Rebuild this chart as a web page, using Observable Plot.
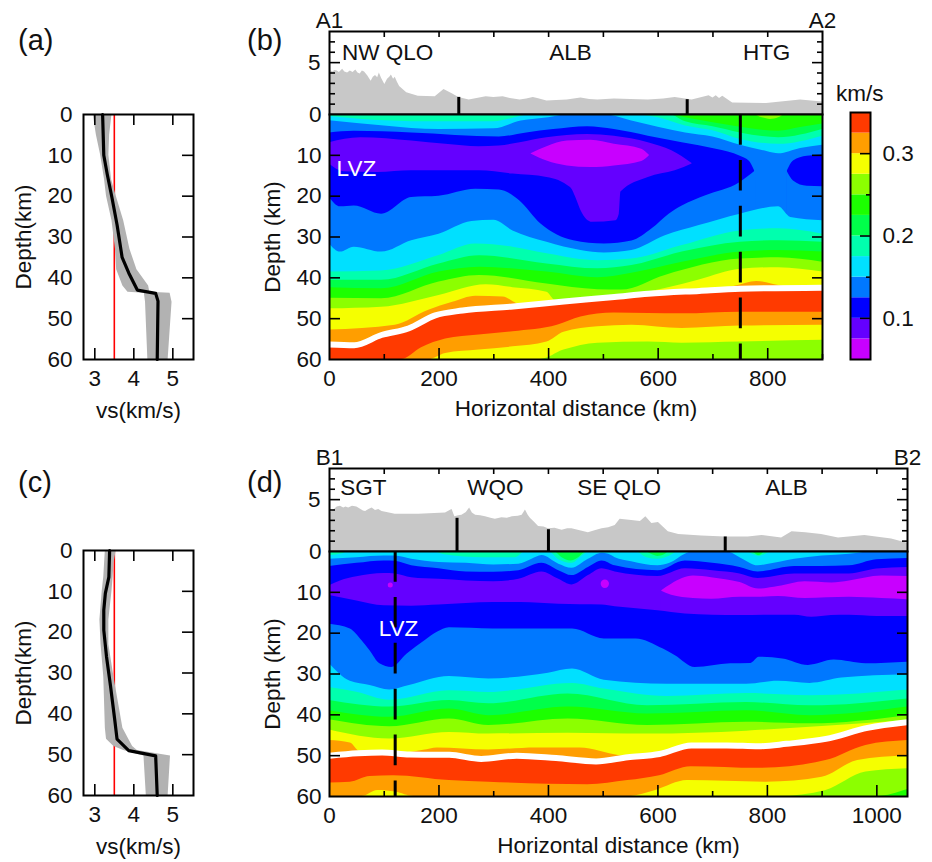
<!DOCTYPE html>
<html>
<head>
<meta charset="utf-8">
<script src="https://cdn.jsdelivr.net/npm/d3@7"></script>
<script src="https://cdn.jsdelivr.net/npm/@observablehq/plot@0.6"></script>
<style>
html,body{margin:0;padding:0;background:#fff}
#page{position:relative;width:932px;height:862px;overflow:hidden;font-family:"Liberation Sans",Arial,sans-serif;color:#111}
#page svg{position:absolute}
.tag{position:absolute;font-size:29px;line-height:34px}
</style>
</head>
<body>
<div id="page"></div>
<script>
// ---- colour classes (km/s), bottom to top of the colour bar
const cbLow  = [0.05,0.075,0.1,0.125,0.15,0.175,0.2,0.225,0.25,0.275,0.3,0.325];
const cbHigh = [0.075,0.1,0.125,0.15,0.175,0.2,0.225,0.25,0.275,0.3,0.325,0.35];
const MAG="#c800ff",VIO="#6400ff",BLU="#0000ff",LBL="#0078ff",CYA="#00e0ff",TEA="#00ffae",
      GR2="#00ff4a",GRN="#1cff00",YGR="#8cff00",YEL="#f5ff00",ORA="#ff9e00",RED="#ff3a00";
const cbColors = [MAG,VIO,BLU,LBL,CYA,TEA,GR2,GRN,YGR,YEL,ORA,RED];

// ---- panel (a) velocity profile
const aLineDepth=[0,10,14.7,20.4,27,35,38.8,43,43.8,45.7,60];
const aLineVs   =[3.2,3.23,3.32,3.44,3.57,3.7,3.87,4.09,4.56,4.62,4.6];
const aBandDepth=[0,5,10,16,20,26,33,38,42,43.5,43.8,46,60];
const aBandLow  =[2.96,3.04,3.15,3.25,3.3,3.44,3.53,3.56,3.72,3.85,4.27,4.3,4.36];
const aBandHigh =[3.44,3.38,3.36,3.43,3.55,3.74,3.9,4.08,4.38,4.41,4.93,4.98,4.88];
// ---- panel (c) velocity profile
const cLineDepth=[0,6.5,10.5,14.6,19.5,26,33,41.4,46.2,49,50.3,60];
const cLineVs   =[3.38,3.36,3.27,3.23,3.23,3.3,3.4,3.51,3.57,3.87,4.56,4.6];
const cBandDepth=[0,3.2,6.5,10,17,23,31,43.5,46.2,48,49,50.3,60];
const cBandLow  =[3.27,3.25,3.23,3.19,3.13,3.16,3.23,3.27,3.3,3.49,3.74,4.26,4.32];
const cBandHigh =[3.55,3.49,3.47,3.44,3.36,3.36,3.49,3.72,3.87,3.97,4.09,4.94,4.88];
const refVs = 3.5;

// ---- panel (b) topography
const bTopoX=[0,6,10,14,18,24,28,33,38,43,48,52,56,60,64,70,76,80,84,88,91,95,101,106,110,113,117,120,124,128,141,162,193,209,224,236,255,286,300,317,330,348,360,372,380,397,415,434,459,475,490,520,550,582,610,631,662,693,700,706,712,718,736,798,860,900];
const bTopoZ=[4.3,4.1,4.25,4.2,4.05,4.35,4.1,4.0,4.2,4.05,4.3,4.0,3.9,4.2,4.1,3.7,3.2,3.6,3.75,3.55,4.0,3.5,2.9,3.4,3.6,3.8,3.4,3.6,3.1,2.7,2.1,1.75,1.7,2.4,2.0,1.65,1.4,1.7,1.65,1.7,1.55,1.4,1.5,1.65,1.55,1.3,1.35,1.4,1.6,1.45,1.4,1.5,1.45,1.4,1.5,1.65,1.4,1.8,1.6,1.8,1.55,1.75,1.1,1.05,1.4,1.2];
const bBoundX=[236,653];
const bBoundZ=[1.65,1.43];
const bRegionName=["NW QLO","ALB","HTG"];
const bRegionX=[106,440,798];
// ---- panel (b) contour interfaces, upper crust: depth of the top of each class
const bGrnX=[0,772,790,805,820,833,900];           const bGrnY=[0,0,0.8,1.2,0.8,0,0];
const bGr2X=[0,620,650,700,750,820,860,900];       const bGr2Y=[0,0,0.8,2,3.1,4.1,3.2,2.3];
const bTeaX=[0,560,620,650,700,750,820,900];       const bTeaY=[0,0,0,1.8,3,4.5,5.7,3.7];
const bCyaX=[0,60,100,200,300,350,365,550,600,650,700,750,820,900];
const bCyaY=[0.5,1.2,1.5,1.8,1.8,0.4,0,0,0.8,2.8,4,6.1,7.3,5.3];
const bLblX=[0,100,200,300,350,400,440,500,550,600,650,700,750,800,820,860,900];
const bLblY=[1.5,2.8,3.7,3.5,1.6,0.8,0,0,1.5,3.1,4.5,5.5,7.5,9.1,9.6,8.3,7.5];
const bBluX=[0,45,150,310,360,409,471,520,582,644,706,750,767,776];
const bBluY=[4.5,4.1,4.5,5.5,4.5,3.7,3,3.7,5.3,6.9,8.5,10.2,11.5,13.8];
const bVioX=[0,57,150,212,273,310,348,397,471,520,582,625,662];
const bVioY=[6.9,5.7,6.5,7.3,7.9,7.7,6.9,5.7,4.9,5.3,6.9,8.9,12];
const bMagX=[368,397,434,477,520,570,584];         const bMagY=[9.6,7.9,6.5,6.3,7.3,8.5,10];
const bMagBotX=[367,397,434,477,520,570,585];      const bMagBotY=[9.6,11.4,12.6,13,12.6,11.5,10];
const bVioBotX=[0,26,88,150,212,273,335,397,440,452,459,480,523,529,532,582,631,664];
const bVioBotY=[12.2,14,14.2,13.8,13.8,13.8,14.6,15.4,17.9,21.1,23.5,26.4,26,24.4,19,15.4,13.8,12];
const bBluBotX=[0,20,45,95,150,200,267,310,347,386,446,502,552,589,620,644,687,749,778];
const bBluBotY=[20.3,22.6,22.4,24.4,20.3,20,18.3,18.5,21.1,26.8,30.9,31.7,31,28,24.4,22.4,19.9,16.7,13.8];
const bBlu2X=[836,847,872,900];                    const bBlu2Y=[13.8,11.4,10.2,9.9];
const bBlu2BotX=[835,847,872,900];                 const bBlu2BotY=[13.8,16.3,17.6,17.7];
// ---- panel (b) lower crust and mantle
const bCyaLoX=[0,20,45,95,150,200,260,300,335,397,459,502,552,613,675,750,820,842,900];
const bCyaLoY=[31.7,33.7,32.5,33.7,30.9,29.3,26.2,25.9,28.5,31.3,33.3,33.9,33.3,29.7,27.2,24.4,22.6,25.2,26];
const bTeaLoX=[0,95,200,267,335,397,490,552,644,750,820,900];
const bTeaLoY=[38.6,38.3,34.5,31.7,32.5,34.1,35.8,35.4,32.1,28.5,28,29.3];
const bGr2LoX=[0,95,200,274,397,490,552,644,750,820,900];
const bGr2LoY=[40.6,40.6,36.6,34.6,36.6,37.8,37,33.7,31.3,30.9,31.3];
const bGrnLoX=[0,95,200,274,397,490,552,644,750,820,900];
const bGrnLoY=[42.4,42.7,38.6,37.4,38.6,40,38.9,36.2,33.7,33.3,33.7];
const bYgrLoX=[0,95,200,274,397,490,533,613,750,820,900];
const bYgrLoY=[45,45.1,41,39.4,41.5,42.9,43,39.4,35.4,35.1,36.2];
const bYelLoX=[0,95,200,286,335,397,412,459,552,583,613,675,750,820,900];
const bYelLoY=[47.6,47.2,44.3,41.7,42.4,43.5,45.5,46,44.7,43.5,42.6,40.5,37.9,37.5,38.6];
const bOraLoX=[0,120,180,225,267,317,344,400,600,680,742,780,820,900];
const bOraLoY=[52.8,51.6,48,46,44.5,44.7,46.5,48,45,43.9,42,40.9,41.9,44];
const bMohoX=[0,45,95,144,193,243,335,428,520,582,675,750,900];
const bMohoY=[56.3,56.5,54,52.4,49.2,48,47,45.8,44.7,43.9,43.2,42.7,42.4];
const bOra2X=[0,131,168,212,273,335,416,459,520,644,750,900];
const bOra2Y=[60,60,57.1,55,54,53.2,51.6,49.6,48.6,48.8,48.4,48.4];
const bYel2X=[0,181,212,273,335,397,428,490,552,644,750,900];
const bYel2Y=[60,60,58.5,57.7,56.9,55.7,53.3,52,51.6,52.4,51.8,51.6];
const bYgr2X=[0,385,428,490,582,644,750,900];
const bYgr2Y=[60,60,57.7,56,55.7,56,55.7,55.3];

// ---- panel (d) topography
const dTopoX=[0,8,14,20,26,30,35,42,50,56,62,66,72,78,84,90,96,105,120,163,212,222,224,229,236,242,250,256,261,267,276,285,295,303,315,325,334,345,352,358,363,367,375,382,392,400,412,425,435,443,458,473,485,498,510,522,531,552,568,578,589,601,619,638,680,723,765,790,826,845,870,899,930,978,1027,1056];
const dTopoZ=[3.7,4.0,4.3,4.35,4.2,4.3,4.2,4.35,4.3,4.1,3.9,3.85,4.05,4.2,3.95,4.05,3.85,3.75,3.6,3.6,3.7,4.0,4.05,3.35,3.45,3.5,3.75,4.2,3.7,3.5,3.45,3.35,3.2,3.1,3.25,3.2,3.35,3.4,3.5,4.0,3.5,3.2,2.8,2.4,2.35,2.2,2.25,2.05,2.2,2.2,2.0,1.8,2.0,2.2,2.3,2.5,3.1,3.0,2.9,3.35,2.7,2.8,1.9,1.65,1.5,1.4,1.4,1.55,1.3,1.9,1.8,1.65,1.3,1.55,1.2,0.8];
const dBoundX=[233,400,723];
const dBoundZ=[3.2,2.1,1.4];
const dRegionName=["SGT","WQO","SE QLO","ALB"];
const dRegionX=[62,303,529,835];
// ---- panel (d) contour interfaces, upper crust
const dTeaX=[0,410,425,441,455,470,575,590,600,612,622,770,785,797,1056];
const dTeaY=[0,0,1.5,2.3,1.5,0,0,0.8,1.2,0.8,0,0,1,0,0];
const dCyaX=[0,25,35,190,210,280,340,358,375,400,419,443,463,475,558,580,600,620,640,760,775,785,795,810,1056];
const dCyaY=[1,0.5,0,0,0.8,1.5,1.5,0,0,0,2,2.9,1,0,0,1.5,1.9,1.2,0,0,0.8,1.2,0.8,0,0];
const dLblX=[0,50,100,120,150,200,250,300,346,370,388,419,443,473,498,510,522,552,600,622,650,665,725,750,783,800,850,900,950,1000,1056];
const dLblY=[1.9,1.5,1.1,1.1,1.9,2.7,2.9,3.3,3.1,1.9,1,3.1,4.1,1.9,0.4,0.7,1.5,2.5,3.5,2.9,0.65,0,0,1.5,3.5,3.2,1.9,1.1,0.65,0,0];
const dBluX=[0,50,100,120,150,200,250,300,346,388,419,443,473,498,522,600,650,700,750,783,850,900,950,1000,1056];
const dBluY=[3.7,2.9,2.3,2.4,3.5,4.2,5,5.1,4.7,2.9,4.7,5.9,3.9,2.3,3.5,4.7,2.3,2.9,3.9,5,3.7,3.7,3.5,2,1.7];
const dVioX=[0,20,50,100,120,150,200,250,300,346,388,419,443,473,498,522,600,650,700,750,783,850,900,950,1000,1056];
const dVioY=[8.4,7.2,6.2,5.4,5.5,6.4,6.8,7.2,7.4,6.8,5,6.8,8.2,5.9,4.2,5,6.1,4.2,4.7,5.5,6.6,5.5,5.5,5.5,4.3,3.9];
const dMagX=[607,625,665,698,750,784,820,869,918,950,1009,1056];
const dMagY=[9.6,8,6,6.4,7.6,9.2,8.6,7.4,7.7,7.2,6,6.1];
const dMagBotX=[605,625,665,698,750,784,820,869,950,1009,1056];
const dMagBotY=[9.6,10.7,11.5,11.7,11.2,11.2,11,11.5,11.2,11.5,11.8];
const dSpotX=[111,503];
const dSpotY=[8.2,7.9];
const dVioBotX=[0,50,100,150,200,300,350,419,498,522,600,650,700,750,800,850,881,917,950,1000,1056];
const dVioBotY=[10.8,12.1,13.3,13.4,13.1,12.5,12.5,12.9,13.1,13.5,14.5,15.3,15.6,15.7,15.6,15.6,16.1,15.7,15.6,15.9,15.9];
const dBluBotX=[0,38,59,74,92,114,142,175,197,219,299,444,502,560,610,632,668,733,770,785,828,875,922,980,1056];
const dBluBotY=[17.8,19,21.8,24.3,27.5,28.4,25.1,21.8,19.8,18.7,19,19,21.4,21.4,23.9,25.5,28.4,27.5,27.4,25.9,26.3,27.9,26.6,27.5,27.1];
// ---- panel (d) lower crust and mantle
const dCyaLoX=[0,38,74,110,146,219,291,400,444,502,617,762,820,878,936,1056];
const dCyaLoY=[27.5,31.8,32.8,33.9,32.8,30.6,31.2,29.8,28.8,31.5,32.5,32.5,31.8,32.3,31,30.2];
const dTeaLoX=[0,52,110,219,291,444,502,617,762,878,1056];
const dTeaLoY=[33.3,34.5,36.4,34.1,34.5,32.3,33.7,35.5,34.8,35.3,33.9];
const dGr2LoX=[0,110,219,291,436,581,762,878,1056];
const dGr2LoY=[36.5,38.1,36.5,37.3,34.9,37.8,37,37.8,36.1];
const dGrnLoX=[0,110,219,291,436,581,762,878,1056];
const dGrnLoY=[39,40.6,38.6,40.2,38.1,39.8,39,40.2,38.1];
const dYgrLoX=[0,110,219,291,436,581,762,878,1056];
const dYgrLoY=[41.2,42.9,41,42.6,41,42.6,41.8,42.2,40.2];
const dYelLoX=[0,110,219,291,436,581,762,835,907,1056];
const dYelLoY=[43.7,45.9,44.3,44.7,44.5,44.7,44,43.4,42.8,41.4];
const dOraLoX=[0,38,56,100,172,197,291,378,458,530,600,800,907,980,1056];
const dOraLoY=[46.3,46.9,49.1,50,48.7,48.1,48.6,48.1,48.1,50,51,48,45.9,44.7,43.2];
const dMohoX=[0,52,96,146,219,277,342,414,487,545,603,661,726,784,835,907,983,1056];
const dMohoY=[50,49.4,49.2,49.7,49.8,50.8,50,50.6,51.4,50.4,49.6,47.5,47.5,47.7,47.1,45.9,43.2,41.8];
const dOra2X=[0,38,74,117,219,291,472,545,603,661,784,907,980,1056];
const dOra2Y=[56.7,56.5,55.1,54.9,56.1,56.5,57.1,56.1,54.9,52.7,53.1,51.2,47.5,46.3];
const dYel2X=[0,59,88,121,154,545,596,654,799,900,965,1056];
const dYel2Y=[60,60,58.5,58.9,60,60,58.5,56.1,56.5,55.3,51.2,50];
const dYgr2X=[0,820,907,980,1056];
const dYgr2Y=[60,60,58.5,54,53.2];
const dGrn2X=[0,1000,1056];
const dGrn2Y=[60,60,58.3];

// ---- tick values and shared labels
const depthTicks=[0,10,20,30,40,50,60];
const vsTicks=[3,4,5];
const elevMinor=[1,2,3,4,6,7];
const cbMajor=[0.1,0.2,0.3];
const cbMinor=[0.15,0.25];

const page=document.getElementById("page");
const STYLE={fontFamily:'"Liberation Sans",Arial,sans-serif',fontSize:"22.5px",background:"transparent",overflow:"visible",color:"#111",maxWidth:"none"};
const TICK={stroke:"#000",strokeWidth:1.6,fill:"none",label:null};
const seq=(a,b,s)=>d3.range(a,b+1e-9,s);

function place(el,left,top){el.style.left=left+"px";el.style.top=top+"px";page.appendChild(el);}
function tag(t,left,top,cls){const d=document.createElement("div");d.className=cls||"tag";d.textContent=t;d.style.left=left+"px";d.style.top=top+"px";page.appendChild(d);}
function layer(xs,ys,fill){
  return Plot.areaY(xs.map((x,i)=>({x,t:ys[i]})),{x:"x",y1:"t",y2:60,fill,curve:"monotone-x",clip:true});
}
function rows(a,b,c){return a.map((v,i)=>({a:v,b:b[i],c:c?c[i]:null}));}

function profile(left,top,h,depth,vs,bd,lo,hi){
  return place(Plot.plot({
    width:210,height:h,marginLeft:83,marginRight:17,marginTop:24,marginBottom:h-24-245,style:STYLE,
    x:{domain:[2.71,5.53],axis:null},y:{domain:[60,0],axis:null},
    marks:[
      Plot.ruleX([refVs],{stroke:"#f00",strokeWidth:1.6}),
      Plot.areaX(rows(bd,lo,hi),{y:"a",x1:"b",x2:"c",fill:"#b2b2b2"}),
      Plot.line(rows(depth,vs),{y:"a",x:"b",stroke:"#000",strokeWidth:3.2}),
      Plot.axisX(vsTicks,{anchor:"bottom",tickSize:0,tickPadding:11,label:"vs(km/s)",labelAnchor:"center",labelOffset:58,labelArrow:"none"}),
      Plot.axisX(vsTicks,{anchor:"bottom",tickSize:-11,...TICK}),
      Plot.axisX(vsTicks,{anchor:"top",tickSize:-10,...TICK}),
      Plot.axisY(depthTicks,{anchor:"left",tickSize:0,tickPadding:11,label:"Depth(km)",labelAnchor:"center",labelOffset:68,labelArrow:"none"}),
      Plot.axisY(depthTicks.slice(1,-1),{anchor:"right",tickSize:-12,...TICK}),
      Plot.frame({stroke:"#000",strokeWidth:2})
    ]}),left,top);
}

function topoPanel(top,xMax,x,z,bx,bz,names,nx,ends,nameZ,endZ){
  const inner=Math.round(xMax*0.5476);
  const xt=seq(100,xMax-1,100);
  return place(Plot.plot({
    width:329+inner+24,height:117,marginLeft:329,marginRight:24,marginTop:31,marginBottom:3,style:STYLE,
    x:{domain:[0,xMax],axis:null},y:{domain:[0,8],axis:null},
    marks:[
      Plot.areaY(rows(x,z),{x:"a",y:"b",fill:"#c8c8c8"}),
      Plot.ruleX(rows(bx,bz),{x:"a",y1:0,y2:"b",stroke:"#000",strokeWidth:3}),
      Plot.text(names,{x:(d,i)=>nx[i],y:nameZ,text:d=>d,fill:"#111"}),
      Plot.text(ends,{x:(d,i)=>i?xMax:0,y:endZ,text:d=>d,fill:"#111"}),
      Plot.axisY([5],{anchor:"left",tickSize:0,tickPadding:9,label:null}),
      Plot.axisY([5],{anchor:"left",tickSize:-11,...TICK}),
      Plot.axisY([5],{anchor:"right",tickSize:-11,...TICK}),
      Plot.axisY(elevMinor,{anchor:"left",tickSize:-6,...TICK}),
      Plot.axisY(elevMinor,{anchor:"right",tickSize:-6,...TICK}),
      Plot.axisX(xt,{anchor:"top",tickSize:-5,...TICK}),
      Plot.frame({stroke:"#000",strokeWidth:2})
    ]}),0,top);
}

function depthPanel(top,xMax,layers,extra,moho,dashX,lvz,xLabelTicks){
  const inner=Math.round(xMax*0.5476);
  const major=seq(0,xMax,200).slice(1);
  const minor=seq(100,xMax,200);
  return place(Plot.plot({
    width:329+inner+24,height:245+70,marginLeft:329,marginRight:24,marginTop:4,marginBottom:66,style:STYLE,
    x:{domain:[0,xMax],axis:null},y:{domain:[60,0],axis:null},
    marks:[
      ...layers,
      ...extra,
      Plot.line(rows(moho[0],moho[1]),{x:"a",y:"b",stroke:"#fff",strokeWidth:6,curve:"monotone-x",clip:true}),
      Plot.ruleX([dashX],{y1:0,y2:60,stroke:"#000",strokeWidth:3,strokeDasharray:"30.7 15.2"}),
      Plot.text(["LVZ"],{x:lvz[0],y:lvz[1],text:d=>d,fill:"#fff"}),
      Plot.axisX(xLabelTicks,{anchor:"bottom",tickSize:0,tickPadding:11,tickFormat:d3.format("d"),label:"Horizontal distance (km)",labelAnchor:"center",labelOffset:56,labelArrow:"none"}),
      Plot.axisX(major,{anchor:"bottom",tickSize:-11,...TICK}),
      Plot.axisX(minor,{anchor:"bottom",tickSize:-5,...TICK}),
      Plot.axisY(depthTicks,{anchor:"left",tickSize:0,tickPadding:8,label:"Depth (km)",labelAnchor:"center",labelOffset:65,labelArrow:"none"}),
      Plot.axisY(depthTicks.slice(1,-1),{anchor:"left",tickSize:-11,...TICK}),
      Plot.axisY(depthTicks.slice(1,-1),{anchor:"right",tickSize:-11,...TICK}),
      Plot.frame({stroke:"#000",strokeWidth:2})
    ]}),0,top);
}

// ---- draw
tag("(a)",18,23);tag("(b)",247,23);tag("(c)",18,465);tag("(d)",247,465);

profile(0,90,340,aLineDepth,aLineVs,aBandDepth,aBandLow,aBandHigh);
profile(0,526,336,cLineDepth,cLineVs,cBandDepth,cBandLow,cBandHigh);

topoPanel(0,900,bTopoX,bTopoZ,bBoundX,bBoundZ,bRegionName,bRegionX,["A1","A2"],5.9,9);
depthPanel(110,900,[
  layer([0,900],[0,0],YGR),layer(bGrnX,bGrnY,GRN),layer(bGr2X,bGr2Y,GR2),layer(bTeaX,bTeaY,TEA),
  layer(bCyaX,bCyaY,CYA),layer(bLblX,bLblY,LBL),
  layer(bBluX,bBluY,BLU),layer(bVioX,bVioY,VIO),layer(bMagX,bMagY,MAG),layer(bMagBotX,bMagBotY,VIO),
  layer(bVioBotX,bVioBotY,BLU),layer(bBluBotX,bBluBotY,LBL),
  layer(bBlu2X,bBlu2Y,BLU),layer(bBlu2BotX,bBlu2BotY,LBL),
  layer(bCyaLoX,bCyaLoY,CYA),layer(bTeaLoX,bTeaLoY,TEA),layer(bGr2LoX,bGr2LoY,GR2),layer(bGrnLoX,bGrnLoY,GRN),
  layer(bYgrLoX,bYgrLoY,YGR),layer(bYelLoX,bYelLoY,YEL),layer(bOraLoX,bOraLoY,ORA),
  layer(bMohoX,bMohoY,RED),layer(bOra2X,bOra2Y,ORA),layer(bYel2X,bYel2Y,YEL),layer(bYgr2X,bYgr2Y,YGR)
],[],[bMohoX,bMohoY],750,[49,13.4],seq(0,800,200));

topoPanel(437,1056,dTopoX,dTopoZ,dBoundX,dBoundZ,dRegionName,dRegionX,["B1","B2"],6.1,9);
depthPanel(547,1056,[
  layer([0,1056],[0,0],GR2),layer(dTeaX,dTeaY,TEA),layer(dCyaX,dCyaY,CYA),layer(dLblX,dLblY,LBL),
  layer(dBluX,dBluY,BLU),layer(dVioX,dVioY,VIO),layer(dMagX,dMagY,MAG),layer(dMagBotX,dMagBotY,VIO),
  layer(dVioBotX,dVioBotY,BLU),layer(dBluBotX,dBluBotY,LBL),
  layer(dCyaLoX,dCyaLoY,CYA),layer(dTeaLoX,dTeaLoY,TEA),layer(dGr2LoX,dGr2LoY,GR2),layer(dGrnLoX,dGrnLoY,GRN),
  layer(dYgrLoX,dYgrLoY,YGR),layer(dYelLoX,dYelLoY,YEL),layer(dOraLoX,dOraLoY,ORA),
  layer(dMohoX,dMohoY,RED),layer(dOra2X,dOra2Y,ORA),layer(dYel2X,dYel2Y,YEL),layer(dYgr2X,dYgr2Y,YGR),layer(dGrn2X,dGrn2Y,GRN)
],[
  Plot.dot(rows(dSpotX,dSpotY),{x:"a",y:"b",r:(d,i)=>i?5.5:2,fill:MAG,stroke:"none"})
],[dMohoX,dMohoY],120,[126,18.9],seq(0,1000,200));

// ---- colour bar
place(Plot.plot({
  width:82,height:247+8,marginLeft:1,marginRight:61,marginTop:4,marginBottom:4,style:STYLE,
  x:{domain:[0,1],axis:null},y:{domain:[0.05,0.35],axis:null},
  marks:[
    Plot.rect(cbColors,{x1:0,x2:1,y1:(d,i)=>cbLow[i],y2:(d,i)=>cbHigh[i],fill:d=>d}),
    Plot.axisY(cbMajor,{anchor:"right",tickSize:0,tickPadding:12,tickFormat:d3.format(".1f"),label:null}),
    Plot.axisY(cbMajor,{anchor:"right",tickSize:-11,...TICK}),
    Plot.axisY(cbMinor,{anchor:"right",tickSize:-5,...TICK}),
    Plot.frame({stroke:"#000",strokeWidth:2})
  ]}),849,108);
const km=document.createElement("div");km.textContent="km/s";km.style.cssText="position:absolute;left:836px;top:81px;font-size:22.5px;line-height:26px";page.appendChild(km);
</script>
</body>
</html>
